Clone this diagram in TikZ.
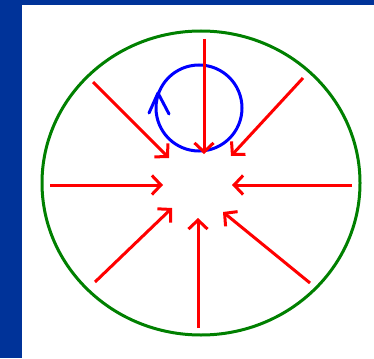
\documentclass[tikz,border=0pt]{standalone}
\usetikzlibrary{arrows.meta}
\definecolor{bgblue}{RGB}{0,51,153}
\definecolor{ringgreen}{RGB}{0,128,0}
\begin{document}
\begin{tikzpicture}[x=1pt,y=-1pt,
  inflow/.style={draw=red,line width=3pt,-{Straight Barb[length=9pt,width=19pt]}},
  ring/.style={draw=ringgreen,line width=3pt},
  swirl/.style={draw=blue,line width=3pt}]
\useasboundingbox (0,0) rectangle (374,358);
\fill[bgblue] (0,0) rectangle (374,358);
\fill[white] (22,5) rectangle (374,358);
% outer ring
\coordinate (c) at (201,183);
\draw[ring] (c) ellipse [x radius=159, y radius=152];
% blue swirl
\coordinate (s) at (199,108);
\draw[swirl] (s) circle [radius=43];
\coordinate (sa) at (149,113);
\coordinate (st) at (158,93);
\coordinate (sb) at (169,114);
\draw[swirl,line cap=round,line join=round] (sa) -- (st) -- (sb);
% red inflow arrows
\coordinate (t0) at (204,39);   \coordinate (t1) at (204,154);
\coordinate (l0) at (50,185);   \coordinate (l1) at (163,185);
\coordinate (r0) at (352,185);  \coordinate (r1) at (232,185);
\coordinate (b0) at (198,328);  \coordinate (b1) at (198,218);
\coordinate (ul0) at (93,82);   \coordinate (ul1) at (169,158);
\coordinate (ur0) at (303,78);  \coordinate (ur1) at (231,156);
\coordinate (ll0) at (95,282);  \coordinate (ll1) at (172,208);
\coordinate (lr0) at (310,283); \coordinate (lr1) at (223,212);
\draw[inflow] (t0) -- (t1);
\draw[inflow] (l0) -- (l1);
\draw[inflow] (r0) -- (r1);
\draw[inflow] (b0) -- (b1);
\draw[inflow] (ul0) -- (ul1);
\draw[inflow] (ur0) -- (ur1);
\draw[inflow] (ll0) -- (ll1);
\draw[inflow] (lr0) -- (lr1);
\end{tikzpicture}
\end{document}
